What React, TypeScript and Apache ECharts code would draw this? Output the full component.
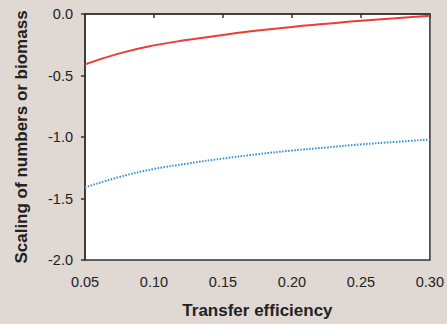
import React, { useEffect, useRef } from "react";
import * as echarts from "echarts";

const xValues = [0.05, 0.075, 0.1, 0.125, 0.15, 0.175, 0.2, 0.225, 0.25, 0.275, 0.3];
const redSeries = [-0.41, -0.32, -0.255, -0.21, -0.17, -0.135, -0.105, -0.08, -0.055, -0.035, -0.015];
const blueSeries = [-1.41, -1.325, -1.26, -1.215, -1.175, -1.14, -1.11, -1.085, -1.06, -1.04, -1.02];
const xAxisTitle = "Transfer efficiency";
const yAxisTitle = "Scaling of numbers or biomass";

export default function App() {
  const ref = useRef<HTMLDivElement>(null);
  useEffect(() => {
    if (!ref.current) return;
    const chart = echarts.init(ref.current, null, { renderer: "svg" });
    const font = "'Liberation Sans', Arial, sans-serif";
    chart.setOption({
      animation: false,
      backgroundColor: "#e0d8d3",
      textStyle: { fontFamily: font },
      grid: {
        left: 85,
        top: 14,
        right: 16,
        bottom: 61,
        show: true,
        backgroundColor: "#ffffff",
        borderColor: "#333333",
        borderWidth: 1.5,
      },
      xAxis: {
        type: "value",
        min: 0.05,
        max: 0.3,
        interval: 0.05,
        name: xAxisTitle,
        nameLocation: "middle",
        nameGap: 42,
        nameTextStyle: { fontSize: 17, fontWeight: "bold", color: "#222", fontFamily: font },
        axisLine: { lineStyle: { color: "#333", width: 1.5 } },
        axisTick: { show: true, length: 4, lineStyle: { color: "#333", width: 1.5 } },
        axisLabel: {
          fontSize: 14.5,
          color: "#222",
          margin: 14,
          fontFamily: font,
          formatter: (v: number) => v.toFixed(2),
        },
        splitLine: { show: false },
      },
      yAxis: {
        type: "value",
        min: -2,
        max: 0,
        interval: 0.5,
        name: yAxisTitle,
        nameLocation: "middle",
        nameGap: 55,
        nameTextStyle: { fontSize: 17, fontWeight: "bold", color: "#222", fontFamily: font },
        axisLine: { lineStyle: { color: "#333", width: 1.5 } },
        axisTick: { show: true, length: 4, lineStyle: { color: "#333", width: 1.5 } },
        axisLabel: {
          fontSize: 14.5,
          color: "#222",
          margin: 12,
          fontFamily: font,
          formatter: (v: number) => v.toFixed(1),
        },
        splitLine: { show: false },
      },
      series: [
        {
          type: "line",
          data: xValues.map((x, i) => [x, redSeries[i]]),
          smooth: true,
          showSymbol: false,
          lineStyle: { color: "#ee3b36", width: 2 },
        },
        {
          type: "line",
          data: xValues.map((x, i) => [x, blueSeries[i]]),
          smooth: true,
          showSymbol: false,
          lineStyle: { color: "#2f93d6", width: 2, type: [1.5, 1.5] },
        },
      ],
    });
    return () => chart.dispose();
  }, []);
  return (
    <div
      ref={ref}
      style={{ position: "fixed", left: 0, top: 0, width: 447, height: 324 }}
    />
  );
}
